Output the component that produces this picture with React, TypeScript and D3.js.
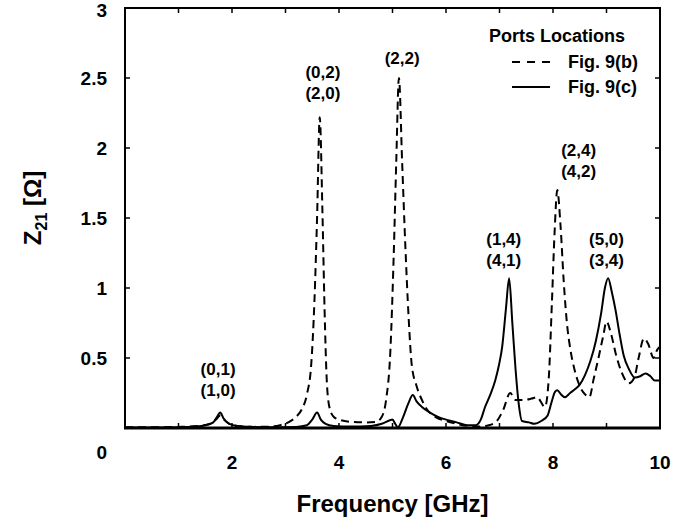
import React from "react";
import * as d3 from "d3";

// Fig. 9(b) (dashed)
const freqB = [0, 0.5, 1.0, 1.4, 1.6, 1.7, 1.78, 1.85, 1.95, 2.1, 2.4, 2.7, 2.9, 3.05, 3.2, 3.3, 3.4, 3.48, 3.54, 3.59, 3.64, 3.69, 3.73, 3.77, 3.82, 3.9, 4.0, 4.2, 4.5, 4.7, 4.8, 4.88, 4.96, 5.02, 5.07, 5.12, 5.18, 5.24, 5.3, 5.36, 5.45, 5.55, 5.65, 5.8, 6.0, 6.2, 6.4, 6.6, 6.8, 6.95, 7.07, 7.2, 7.3, 7.45, 7.6, 7.7, 7.85, 7.92, 7.98, 8.03, 8.08, 8.14, 8.2, 8.26, 8.33, 8.4, 8.5, 8.6, 8.68, 8.76, 8.85, 8.94, 9.0, 9.08, 9.18, 9.28, 9.42, 9.52, 9.6, 9.7, 9.78, 9.88, 9.95, 10.0];
const zB = [0.005, 0.005, 0.008, 0.015, 0.03, 0.06, 0.09, 0.06, 0.03, 0.015, 0.008, 0.01, 0.02, 0.04, 0.08, 0.13, 0.24, 0.45, 0.9, 1.5, 2.22, 1.55, 0.85, 0.35, 0.15, 0.08, 0.06, 0.045, 0.04, 0.045, 0.08, 0.2, 0.55, 1.2, 1.9, 2.5, 1.9, 1.3, 0.8, 0.45, 0.3, 0.2, 0.13, 0.08, 0.05, 0.03, 0.015, 0.01, 0.02, 0.05, 0.13, 0.25, 0.2, 0.2, 0.21, 0.22, 0.15, 0.35, 0.9, 1.4, 1.7, 1.45, 1.05, 0.75, 0.55, 0.42, 0.3, 0.24, 0.22, 0.35, 0.5, 0.66, 0.76, 0.68, 0.52, 0.4, 0.32, 0.36, 0.5, 0.64, 0.6, 0.5, 0.56, 0.58];

// Fig. 9(c) (solid)
const freqC = [0, 0.5, 1.0, 1.3, 1.5, 1.65, 1.72, 1.78, 1.84, 1.95, 2.1, 2.4, 2.8, 3.2, 3.4, 3.5, 3.59, 3.66, 3.75, 3.9, 4.2, 4.6, 4.8, 4.95, 5.0, 5.05, 5.1, 5.2, 5.3, 5.38, 5.45, 5.55, 5.7, 5.85, 6.0, 6.2, 6.4, 6.55, 6.65, 6.73, 6.83, 6.92, 6.99, 7.05, 7.12, 7.18, 7.24, 7.3, 7.36, 7.42, 7.55, 7.65, 7.78, 7.9, 7.97, 8.04, 8.08, 8.15, 8.22, 8.32, 8.42, 8.5, 8.6, 8.7, 8.8, 8.9, 8.97, 9.03, 9.1, 9.17, 9.24, 9.32, 9.42, 9.53, 9.63, 9.73, 9.82, 9.9, 10.0];
const zC = [0.003, 0.003, 0.005, 0.01, 0.02, 0.04, 0.08, 0.11, 0.07, 0.03, 0.015, 0.008, 0.005, 0.008, 0.02, 0.06, 0.11, 0.06, 0.03, 0.015, 0.01, 0.015, 0.03, 0.055, 0.06, 0.03, 0.005, 0.08, 0.18, 0.235, 0.19, 0.15, 0.11, 0.08, 0.06, 0.04, 0.02, 0.02, 0.06, 0.15, 0.24, 0.34, 0.45, 0.58, 0.85, 1.07, 0.75, 0.42, 0.17, 0.05, 0.04, 0.03, 0.05, 0.09, 0.18, 0.26, 0.27, 0.24, 0.22, 0.25, 0.28, 0.31, 0.38, 0.48, 0.62, 0.82, 1.0, 1.07, 0.97, 0.84, 0.68, 0.52, 0.42, 0.36, 0.37, 0.39, 0.37, 0.34, 0.34];

const xTickLabels = [2, 4, 6, 8, 10];
const xTicks = [1, 2, 3, 4, 5, 6, 7, 8, 9];
const yTickLabels = [0.5, 1, 1.5, 2, 2.5, 3];
const yTicks = [0.5, 1, 1.5, 2, 2.5];

const annotFreq = [1.74, 3.7, 5.18, 7.08, 8.48, 9.0];
const annotTop = ["(0,1)", "(0,2)", "(2,2)", "(1,4)", "(2,4)", "(5,0)"];
const annotBottom = ["(1,0)", "(2,0)", "", "(4,1)", "(4,2)", "(3,4)"];
const annotZ = [0.38, 2.5, 2.6, 1.31, 1.94, 1.31];

const legendTitle = "Ports Locations";
const legendLabels = ["Fig. 9(b)", "Fig. 9(c)"];

const FONT = "'Liberation Sans', Arial, Helvetica, sans-serif";

export default function App() {
  const x = d3.scaleLinear().domain([0, 10]).range([125, 660]);
  const y = d3.scaleLinear().domain([0, 3]).range([428, 8]);
  const line = d3
    .line<[number, number]>()
    .x((d) => x(d[0]))
    .y((d) => y(d[1]))
    .curve(d3.curveMonotoneX);
  const dataB: [number, number][] = freqB.map((f, i) => [f, zB[i]]);
  const dataC: [number, number][] = freqC.map((f, i) => [f, zC[i]]);
  const [x0, x1] = x.range();
  const [yb, yt] = y.range();

  return (
    <svg
      width={695}
      height={520}
      style={{ position: "absolute", left: 0, top: 0, background: "#fff" }}
      fontFamily={FONT}
      fontWeight="bold"
    >
      <defs>
        <clipPath id="plot">
          <rect x={x0} y={yt} width={x1 - x0} height={yb - yt} />
        </clipPath>
      </defs>
      <rect x={0} y={0} width={695} height={520} fill="#fff" />
      <g clipPath="url(#plot)" fill="none" stroke="#000" strokeLinejoin="round">
        <path d={line(dataB) || ""} strokeWidth={2} strokeDasharray="8,5" />
        <path d={line(dataC) || ""} strokeWidth={2} />
      </g>
      {/* frame */}
      <rect x={x0} y={yt} width={x1 - x0} height={yb - yt} fill="none" stroke="#000" strokeWidth={2} />
      <line x1={x0 - 1} x2={x1 + 1} y1={yb} y2={yb} stroke="#000" strokeWidth={3} />
      {/* ticks */}
      {xTicks.map((t) => (
        <g key={"xt" + t} stroke="#000" strokeWidth={1.5}>
          <line x1={x(t)} x2={x(t)} y1={yb} y2={yb - 5} />
          <line x1={x(t)} x2={x(t)} y1={yt} y2={yt + 5} />
        </g>
      ))}
      {yTicks.map((t) => (
        <g key={"yt" + t} stroke="#000" strokeWidth={1.5}>
          <line x1={x0} x2={x0 + 5} y1={y(t)} y2={y(t)} />
          <line x1={x1} x2={x1 - 5} y1={y(t)} y2={y(t)} />
        </g>
      ))}
      {/* tick labels */}
      {xTickLabels.map((t) => (
        <text key={"xl" + t} x={x(t)} y={469} textAnchor="middle" fontSize={19}>
          {t}
        </text>
      ))}
      {yTickLabels.map((t) => (
        <text
          key={"yl" + t}
          x={107}
          y={t === 3 ? y(t) + 2 : y(t)}
          dy="0.35em"
          textAnchor="end"
          fontSize={19}
        >
          {t}
        </text>
      ))}
      <text x={107} y={y(0) + 24} dy="0.35em" textAnchor="end" fontSize={19}>
        0
      </text>
      {/* axis titles */}
      <text x={(x0 + x1) / 2} y={512} textAnchor="middle" fontSize={24}>
        Frequency [GHz]
      </text>
      <text transform={`translate(41, 208) rotate(-90)`} textAnchor="middle" fontSize={24}>
        Z<tspan fontSize={16} dy={6}>21</tspan>
        <tspan dy={-6}> [Ω]</tspan>
      </text>
      {/* annotations */}
      {annotFreq.map((f, i) => (
        <g key={"an" + i} fontSize={17} textAnchor="middle">
          <text x={x(f)} y={y(annotZ[i])}>{annotTop[i]}</text>
          {annotBottom[i] && (
            <text x={x(f)} y={y(annotZ[i]) + 21}>{annotBottom[i]}</text>
          )}
        </g>
      ))}
      {/* legend */}
      <text x={557} y={42} textAnchor="middle" fontSize={18}>
        {legendTitle}
      </text>
      <line x1={512} x2={550} y1={62} y2={62} stroke="#000" strokeWidth={2} strokeDasharray="8,7" />
      <line x1={512} x2={550} y1={87} y2={87} stroke="#000" strokeWidth={2} />
      <text x={568} y={68} fontSize={18}>
        {legendLabels[0]}
      </text>
      <text x={568} y={93} fontSize={18}>
        {legendLabels[1]}
      </text>
    </svg>
  );
}
